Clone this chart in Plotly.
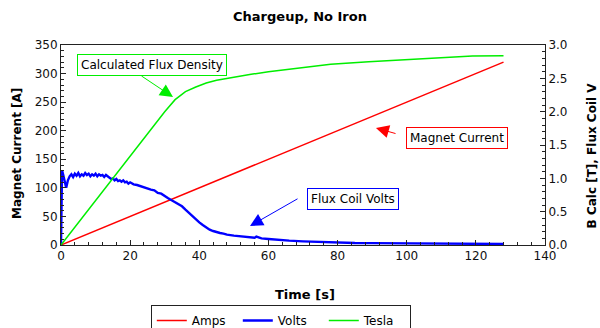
import plotly.graph_objects as go

# ---- data ----
amps_t = [0, 32, 64, 96, 128]
amps_a = [0, 80, 160, 240, 320]

tesla_t = [0, 5, 10, 15, 20, 25, 30, 33, 36, 39, 42, 45, 50, 55, 60, 65, 70, 78, 89, 103, 119, 128]
tesla_v = [0, 0.335, 0.67, 1.0, 1.34, 1.67, 2.0, 2.18, 2.3, 2.37, 2.43, 2.47, 2.52, 2.56, 2.6,
           2.63, 2.66, 2.71, 2.75, 2.79, 2.835, 2.84]

volts_t = [0, 0.3, 0.6, 1, 1.5, 2, 2.5, 3, 3.5, 4, 4.5, 5, 5.5, 6, 6.5, 7, 7.5, 8, 8.5, 9, 9.5, 10,
           10.5, 11, 11.5, 12, 12.5, 13, 13.5, 14, 14.5, 15, 15.5, 16, 16.5, 17, 17.5, 18, 18.5,
           19, 19.5, 20, 21, 22, 23, 24, 25, 26, 27, 28, 29, 30, 31, 32, 33, 34, 35, 36, 37, 38,
           39, 40, 41, 42, 43, 44, 45, 46, 47, 48, 50, 52, 54, 56, 56.5, 58, 60, 63, 66, 70, 75,
           80, 85, 90, 95, 100, 105, 110, 115, 120, 125, 128]
volts_v = [0, 1.12, 1.06, 0.95, 0.86, 0.97, 1.03, 1.06, 1.02, 1.07, 1.04, 1.08, 1.03, 1.06, 1.04,
           1.08, 1.05, 1.07, 1.03, 1.06, 1.04, 1.07, 1.03, 1.06, 1.04, 1.05, 1.02, 1.05, 1.03, 1.02,
           0.99, 1.0, 0.97, 0.99, 0.96, 0.97, 0.95, 0.97, 0.94, 0.95, 0.92, 0.94, 0.91, 0.9, 0.88,
           0.87, 0.84, 0.83, 0.82, 0.78, 0.77, 0.73, 0.7, 0.67, 0.64, 0.62, 0.58, 0.53, 0.48, 0.44,
           0.38, 0.34, 0.3, 0.26, 0.23, 0.21, 0.19, 0.18, 0.17, 0.155, 0.14, 0.13, 0.12, 0.11, 0.125,
           0.1, 0.09, 0.075, 0.065, 0.055, 0.045, 0.035, 0.03, 0.028, 0.025, 0.022, 0.02, 0.018,
           0.017, 0.016, 0.015, 0.015]

FONT = "DejaVu Sans"
RED = "#ff0000"
BLUE = "#0000ff"
GREEN = "#00ee00"

fig = go.Figure()
fig.add_trace(go.Scatter(x=amps_t, y=amps_a, name="Amps", mode="lines",
                         line=dict(color=RED, width=1.5), yaxis="y"))
fig.add_trace(go.Scatter(x=volts_t, y=volts_v, name="Volts", mode="lines",
                         line=dict(color=BLUE, width=2.4), yaxis="y2"))
fig.add_trace(go.Scatter(x=tesla_t, y=tesla_v, name="Tesla", mode="lines",
                         line=dict(color=GREEN, width=1.5), yaxis="y2"))

axis_common = dict(showgrid=False, zeroline=False, showline=True, linecolor="#222",
                   linewidth=1, ticks="inside", ticklen=5, tickcolor="#222", automargin=False,
                   tickfont=dict(family=FONT, size=12, color="#111"))

fig.update_layout(
    width=600, height=328,
    margin=dict(l=61, r=55, t=45, b=83),
    paper_bgcolor="white", plot_bgcolor="white",
    font=dict(family=FONT, size=12, color="black"),
    title=dict(text="<b>Chargeup, No Iron</b>", x=0.5, xanchor="center",
               y=0.95, yanchor="middle", font=dict(family=FONT, size=13)),
    xaxis=dict(range=[0, 140], dtick=20, mirror=True,
               minor=dict(dtick=4, ticks="inside", ticklen=3, tickcolor="#222"),
               **axis_common),
    yaxis=dict(range=[0, 350], dtick=50, mirror=True,
               minor=dict(dtick=10, ticks="inside", ticklen=3, tickcolor="#222"),
               **axis_common),
    yaxis2=dict(range=[0, 3], dtick=0.5, tickformat=".1f", overlaying="y", side="right",
                minor=dict(dtick=0.1, ticks="inside", ticklen=3, tickcolor="#222"),
                **axis_common),
    showlegend=True,
    legend=dict(orientation="h", xref="container", yref="container",
                x=0.468, xanchor="center", y=1 - 305 / 328, yanchor="top",
                entrywidth=41, entrywidthmode="pixels",
                bordercolor="#222", borderwidth=1, bgcolor="white",
                font=dict(family=FONT, size=12)),
)

ann = []
# axis titles
ann.append(dict(text="<b>Magnet Current [A]</b>", xref="paper", yref="paper", x=-0.091, y=0.46,
                textangle=-90, showarrow=False, font=dict(family=FONT, size=12),
                xanchor="center", yanchor="middle"))
ann.append(dict(text="<b>B Calc [T], Flux Coil V</b>", xref="paper", yref="paper", x=1.098,
                y=0.45, textangle=-90, showarrow=False, font=dict(family=FONT, size=12),
                xanchor="center", yanchor="middle"))
ann.append(dict(text="<b>Time [s]</b>", xref="paper", yref="paper", x=0.504, y=-0.245,
                showarrow=False, font=dict(family=FONT, size=13),
                xanchor="center", yanchor="middle"))

# callout boxes
boxes = [("Calculated Flux Density", 26.2, 315, GREEN),
         ("Magnet Current", 114.6, 187.3, RED),
         ("Flux Coil Volts", 84.6, 80.5, BLUE)]
for txt, bx, by, col in boxes:
    ann.append(dict(text=txt, x=bx, y=by, xref="x", yref="y", showarrow=False,
                    bordercolor=col, borderwidth=1, borderpad=3, bgcolor="white",
                    font=dict(family=FONT, size=12, color="black"),
                    xanchor="center", yanchor="middle"))

# arrows (tail -> head)
arrows = [(22.85, 297.5, 32.4, 259, GREEN),
          (97.2, 194.3, 91.1, 204.8, RED),
          (68.85, 82.3, 54.67, 33.25, BLUE)]
for tx, ty, hx, hy, col in arrows:
    ann.append(dict(text="", x=hx, y=hy, xref="x", yref="y", ax=tx, ay=ty,
                    axref="x", ayref="y", showarrow=True, arrowhead=2, arrowsize=2.6,
                    arrowwidth=1, arrowcolor=col))

fig.update_layout(annotations=ann)
fig.write_html("out.html", config={"displayModeBar": False},
               post_script="document.body.style.margin='0';document.body.style.padding='0';")
